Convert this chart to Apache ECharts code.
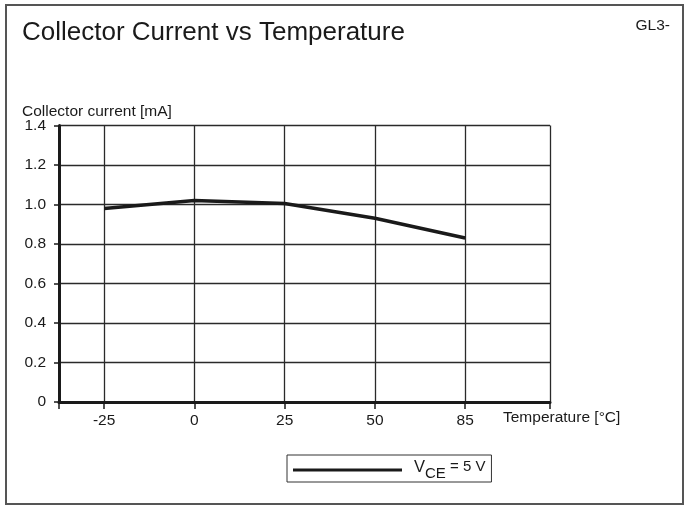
<!DOCTYPE html>
<html>
<head>
<meta charset="utf-8">
<script src="https://cdn.jsdelivr.net/npm/echarts@6/dist/echarts.min.js"></script>
<style>
    html, body { margin: 0; padding: 0; background: #fff; }
    #chart { width: 687px; height: 506px; }
</style>
</head>
<body>
<div id="chart"></div>
<script>
// values
const temps = ['-25', '0', '25', '50', '85'];
const current = [0.98, 1.02, 1.005, 0.93, 0.83];
const yTicks = [0, 0.2, 0.4, 0.6, 0.8, 1.0, 1.2, 1.4];
const seriesName = 'VCE = 5 V';

// temperatures are evenly spaced on the sheet, so place them at 0..4
const xPos = temps.map((t, i) => i);
const xMin = -0.5;
const xMax = 4.94;
const points = current.map((v, i) => [xPos[i], v]);

const font = "'Liberation Sans', Arial, sans-serif";
const ink = '#1a1a1a';
const fs = 15.5;

const chart = echarts.init(document.getElementById('chart'));

chart.setOption({
    animation: false,
    textStyle: { fontFamily: font, color: ink },
    title: [
        {
            text: 'Collector Current vs Temperature',
            left: 22, top: 20, padding: 0,
            textStyle: { fontSize: 26, fontWeight: 'normal', color: ink, fontFamily: font }
        },
        {
            text: 'GL3-',
            right: 17, top: 18, padding: 0,
            textStyle: { fontSize: fs, fontWeight: 'normal', color: ink, fontFamily: font }
        },
        {
            text: 'Collector current [mA]',
            left: 22, top: 104, padding: 0,
            textStyle: { fontSize: fs, fontWeight: 'normal', color: ink, fontFamily: font }
        },
        {
            text: 'Temperature [°C]',
            left: 503, top: 410, padding: 0,
            textStyle: { fontSize: fs, fontWeight: 'normal', color: ink, fontFamily: font }
        }
    ],
    graphic: [
        {
            type: 'rect',
            silent: true,
            shape: { x: 6, y: 5, width: 677, height: 499 },
            style: { fill: null, stroke: '#555', lineWidth: 2 }
        }
    ],
    grid: {
        left: 59, right: 137, top: 125.5, bottom: 104,
        containLabel: false,
        outerBoundsMode: 'none'
    },
    legend: {
        left: 287, top: 455,
        padding: [4, 6, 1, 6],
        borderColor: '#333', borderWidth: 1,
        itemWidth: 109, itemHeight: 3,
        data: [{ name: seriesName, icon: 'rect' }],
        formatter: () => '{v|V}{sub|CE}{v2| = 5 V}',
        textStyle: {
            color: ink,
            rich: {
                v: { fontSize: 16.5, verticalAlign: 'top', lineHeight: 17, padding: [0, 0, 0, 7], fontFamily: font, color: ink },
                sub: { fontSize: 15, verticalAlign: 'bottom', lineHeight: 22, fontFamily: font, color: ink },
                v2: { fontSize: 15, verticalAlign: 'top', lineHeight: 17, fontFamily: font, color: ink }
            }
        }
    },
    xAxis: {
        type: 'value',
        min: xMin, max: xMax,
        axisLine: { show: true, onZero: false, lineStyle: { color: ink, width: 3 } },
        axisTick: {
            show: true, length: 7,
            customValues: [xMin].concat(xPos, [xMax]),
            lineStyle: { color: ink, width: 1.5 }
        },
        axisLabel: {
            margin: 11, fontSize: fs, color: ink, fontFamily: font,
            customValues: xPos,
            formatter: v => temps[Math.round(v)]
        },
        splitLine: { show: true, lineStyle: { color: '#2a2a2a', width: 1.3 } }
    },
    yAxis: {
        type: 'value',
        min: yTicks[0], max: yTicks[yTicks.length - 1], interval: 0.2,
        axisLine: { show: true, onZero: false, lineStyle: { color: ink, width: 3 } },
        axisTick: { show: true, length: 5, lineStyle: { color: ink, width: 1.5 } },
        axisLabel: {
            margin: 13, fontSize: fs, color: ink, fontFamily: font,
            formatter: v => (v === 0 ? '0' : v.toFixed(1))
        },
        splitLine: { show: true, lineStyle: { color: '#2a2a2a', width: 1.3 } }
    },
    series: [
        {
            name: seriesName,
            type: 'line',
            data: points,
            showSymbol: false,
            symbol: 'none',
            color: ink,
            lineStyle: { color: ink, width: 3.5 }
        }
    ]
});
</script>
</body>
</html>
